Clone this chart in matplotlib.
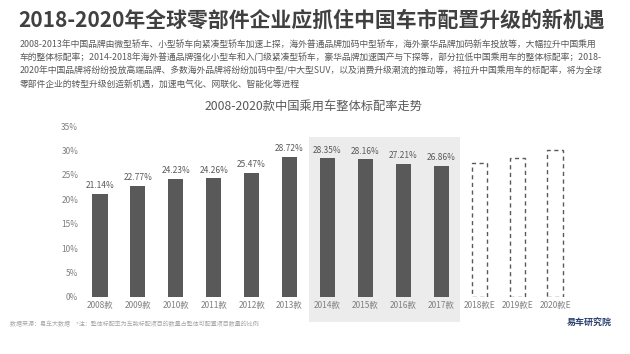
import matplotlib
matplotlib.use("Agg")
import matplotlib.pyplot as plt
from matplotlib.patches import Rectangle

plt.rcParams['font.family'] = ['Noto Sans CJK SC', 'DejaVu Sans']

categories = ["2008款", "2009款", "2010款", "2011款", "2012款", "2013款",
              "2014款", "2015款", "2016款", "2017款", "2018款E", "2019款E", "2020款E"]
actual_values = [21.14, 22.77, 24.23, 24.26, 25.47, 28.72, 28.35, 28.16, 27.21, 26.86]
forecast_values = [27.5, 28.5, 30.0]
y_ticks = [0, 5, 10, 15, 20, 25, 30, 35]

title = "2018-2020年全球零部件企业应抓住中国车市配置升级的新机遇"
body_lines = [
    "2008-2013年中国品牌由微型轿车、小型轿车向紧凑型轿车加速上探，海外普通品牌加码中型轿车，海外豪华品牌加码新车投放等，大幅拉升中国乘用",
    "车的整体标配率；2014-2018年海外普通品牌强化小型车和入门级紧凑型轿车，豪华品牌加速国产与下探等，部分拉低中国乘用车的整体标配率；2018-",
    "2020年中国品牌将纷纷投放高端品牌、多数海外品牌将纷纷加码中型/中大型SUV，以及消费升级潮流的推动等，将拉升中国乘用车的标配率，将为全球",
    "零部件企业的转型升级创造新机遇，加速电气化、网联化、智能化等进程",
]
chart_title = "2008-2020款中国乘用车整体标配率走势"
footer = "数据来源：易车大数据　*注：整体标配率为车款标配项目的数量占整体可配置项目数量的比例"
brand = "易车研究院"

W, H = 630, 354
fig = plt.figure(figsize=(W / 100, H / 100), dpi=100)
fig.patch.set_facecolor("white")

ax = fig.add_axes([81 / W, (H - 297) / H, 493 / W, 171 / H])
ax.set_xlim(-0.5, 12.5)
ax.set_ylim(0, 35)

bar_color = "#595959"
n_act = len(actual_values)
xa = list(range(n_act))
xf = list(range(n_act, n_act + len(forecast_values)))

# grey highlight for 2014-2017
ax.add_patch(Rectangle((5.5, -5.2), 4.0, 37.9, facecolor="#ececec", edgecolor="none",
                       clip_on=False, zorder=0))

ax.bar(xa, actual_values, width=0.4, color=bar_color, zorder=2)
for x, v in zip(xa, actual_values):
    ax.text(x, v + 0.8, f"{v:.2f}%", ha="center", va="bottom", fontsize=6,
            color="#595959", zorder=3)

ax.bar(xf, forecast_values, width=0.4, facecolor="none", edgecolor="#595959",
       linestyle=(0, (3, 2.5)), linewidth=1.0, zorder=2)

ax.set_yticks(y_ticks)
ax.set_yticklabels([f"{t}%" for t in y_ticks])
ax.set_xticks(range(len(categories)))
ax.set_xticklabels(categories)
ax.tick_params(axis="both", length=0, labelsize=6, colors="#7f7f7f")
ax.tick_params(axis="x", pad=3)
ax.tick_params(axis="y", pad=2)
for s in ax.spines.values():
    s.set_visible(False)
ax.patch.set_alpha(0)

# texts
fig.text(18 / W, 1 - 20 / H, title, fontsize=15.0, fontweight="bold", color="#404040",
         va="center", ha="left")
for i, line in enumerate(body_lines):
    fig.text(20 / W, 1 - (44 + i * 13.3) / H, line, fontsize=6.35, color="#595959",
             va="center", ha="left")
fig.text(314 / W, 1 - 106 / H, chart_title, fontsize=8.8, color="#595959",
         va="center", ha="center")
fig.text(10 / W, 1 - 324 / H, footer, fontsize=4.3, color="#a6a6a6", va="center", ha="left")
fig.text(612 / W, 1 - 323 / H, brand, fontsize=6.5, fontweight="bold", color="#2b4170",
         va="center", ha="right")

fig.savefig("out.png", dpi=100)
